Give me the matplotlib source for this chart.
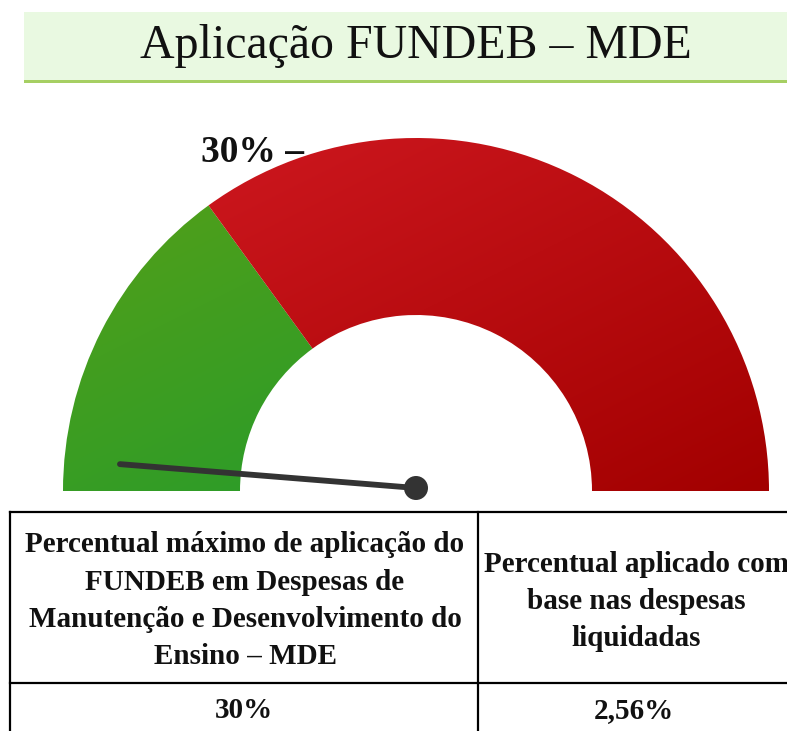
import numpy as np
import matplotlib.pyplot as plt
from matplotlib.patches import Wedge, Rectangle, Circle
from matplotlib.colors import LinearSegmentedColormap

# gauge data (percent)
limit_pct = 30.0
applied_pct = 2.56
title = "Aplicação FUNDEB – MDE"
limit_label = "30% –"
header_left = ["Percentual máximo de aplicação do",
               "FUNDEB em Despesas de",
               "Manutenção e Desenvolvimento do",
               "Ensino – MDE"]
header_right = ["Percentual aplicado com",
                "base nas despesas",
                "liquidadas"]
row_values = ["30%", "2,56%"]

W, H = 787, 731
SERIF = ["Liberation Serif", "DejaVu Serif"]

fig = plt.figure(figsize=(W / 100, H / 100), dpi=100)
ax = fig.add_axes([0, 0, 1, 1])
ax.set_xlim(0, W)
ax.set_ylim(H, 0)
ax.axis("off")

# ---------------------------------------------------------------- banner
ax.add_patch(Rectangle((24, 12), W - 24, 68, facecolor="#e9f9e1", edgecolor="none", zorder=1))
ax.add_patch(Rectangle((24, 80), W - 24, 3, facecolor="#a6cf63", edgecolor="none", zorder=2))
ax.text(416, 46, title, family=SERIF, fontsize=34.5, ha="center", va="center",
        color="#111111", zorder=3)

# ---------------------------------------------------------------- gauge
cx, cy = 416, 491
r_out, r_in = 353, 176


def ang(pct):
    # y axis is inverted, so the upper half runs from 180 to 360 degrees
    return 180 + pct * 1.8


def gradient_wedge(t1, t2, c_start, c_end):
    w = Wedge((cx, cy), r_out, t1, t2, width=r_out - r_in,
              facecolor="none", edgecolor="none")
    ax.add_patch(w)
    cmap = LinearSegmentedColormap.from_list("g", [c_start, c_end])
    gx, gy = np.meshgrid(np.linspace(0, 1, 200), np.linspace(0, 1, 200))
    grad = (gx + gy) / 2
    im = ax.imshow(grad, cmap=cmap, extent=(cx - r_out, cx + r_out, cy, cy - r_out),
                   origin="upper", interpolation="bilinear", zorder=4, aspect="auto")
    im.set_clip_path(w)


ax.text(201, 153, limit_label, family=SERIF, fontsize=27, fontweight="bold",
        ha="left", va="center", color="#111111", zorder=3)

gradient_wedge(ang(0), ang(limit_pct), "#5aa016", "#159a32")
gradient_wedge(ang(limit_pct), ang(100), "#d21a22", "#a20000")

# needle
px, py = 416, 488
length = 297
t = np.deg2rad(ang(applied_pct))
ax.plot([px, px + length * np.cos(t)], [py, py + length * np.sin(t)],
        color="#333333", lw=4.2, solid_capstyle="round", zorder=6)
ax.add_patch(Circle((px, py), 12, facecolor="#333333", edgecolor="none", zorder=7))

# ---------------------------------------------------------------- table
lw = 1.6
ax.plot([10, 792], [512, 512], color="black", lw=lw, zorder=5)
ax.plot([10, 792], [683, 683], color="black", lw=lw, zorder=5)
ax.plot([10, 10], [512, 740], color="black", lw=lw, zorder=5)
ax.plot([478, 478], [512, 740], color="black", lw=lw, zorder=5)

for i, line in enumerate(header_left):
    ax.text(245, 545 + i * 37.3, line, family=SERIF, fontsize=21, fontweight="bold",
            ha="center", va="center", color="#111111", zorder=6)
for i, line in enumerate(header_right):
    ax.text(636, 564 + i * 37.3, line, family=SERIF, fontsize=21, fontweight="bold",
            ha="center", va="center", color="#111111", zorder=6)

ax.text(244, 711, row_values[0], family=SERIF, fontsize=21, fontweight="bold",
        ha="center", va="center", color="#111111", zorder=6)
ax.text(634, 711, row_values[1], family=SERIF, fontsize=21, fontweight="bold",
        ha="center", va="center", color="#111111", zorder=6)

fig.savefig("out.png", dpi=100)
